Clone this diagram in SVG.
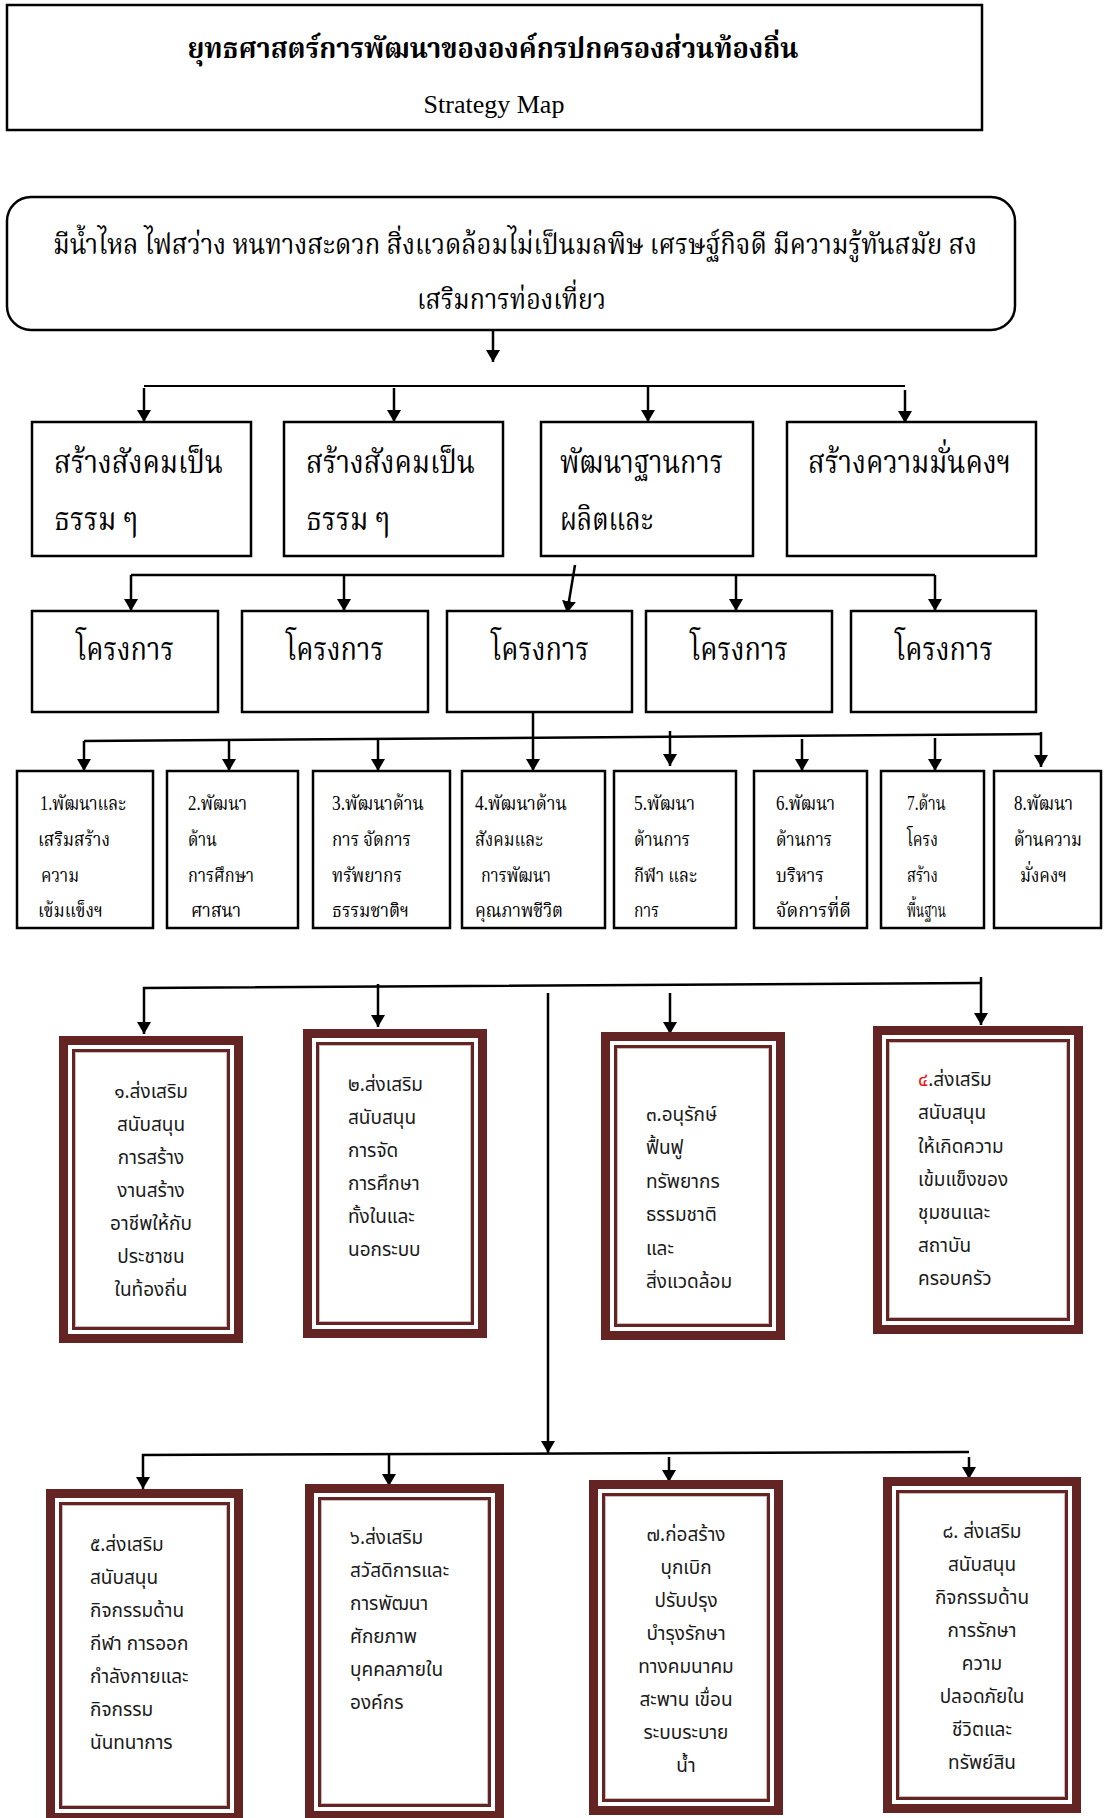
<svg xmlns="http://www.w3.org/2000/svg" width="1106" height="1818" viewBox="0 0 1106 1818">
<defs>
<style>
.bx{fill:#fff;stroke:#000;stroke-width:2.5}
.c{fill:none;stroke:#000;stroke-width:2.5}
.c2{fill:none;stroke:#000;stroke-width:2}
.a{marker-end:url(#ah)}
.th{font-family:"Liberation Serif","Noto Serif Thai","Noto Sans Thai",serif;fill:#000}
.t1{font-size:28px;font-weight:bold}
.t2{font-size:28px}
.t3{font-size:32px}
.t4{font-size:20px}
.en{font-family:"Liberation Serif",serif;font-size:26px;fill:#000}
.ts{font-family:"Noto Sans Thai","Noto Sans","Liberation Sans",sans-serif;font-size:19px;fill:#1a1a1a}
.mid{text-anchor:middle}
.fo{fill:#fff;stroke:#652424;stroke-width:9}
.fi{fill:none;stroke:#652424;stroke-width:3}
.fl{fill:none;stroke:#cdbcbc;stroke-width:1}
</style>
<marker id="ah" viewBox="0 0 12 14" refX="12" refY="7" markerWidth="12" markerHeight="14" markerUnits="userSpaceOnUse" orient="auto"><path d="M0,0 L12,7 L0,14 z" fill="#000"/></marker>
</defs>
<rect width="1106" height="1818" fill="#fff"/>

<g id="connectors">
<path class="c a" d="M493,330 V362"/>
<path class="c2" d="M144,386 H905"/>
<path class="c a" d="M144,388 V422"/>
<path class="c a" d="M394,388 V422"/>
<path class="c a" d="M648,386 V422"/>
<path class="c a" d="M905,390 V423"/>
<path class="c" d="M131,575 H935"/>
<path class="c a" d="M131,575 V611"/>
<path class="c a" d="M344,575 V611"/>
<path class="c a" d="M736,575 V611"/>
<path class="c a" d="M935,575 V611"/>
<path class="c a" d="M575,565 L567,613"/>
<path class="c a" d="M533,712 V771"/>
<path class="c" d="M84,741 L1041,734"/>
<path class="c a" d="M84,741 V771"/>
<path class="c a" d="M229,740 V771"/>
<path class="c a" d="M378,740 V771"/>
<path class="c a" d="M670,731 V766"/>
<path class="c a" d="M802,739 V771"/>
<path class="c a" d="M935,738 V771"/>
<path class="c a" d="M1041,732 V767"/>
<path class="c a" d="M981,983 L144,988 V1034"/>
<path class="c a" d="M378,984 V1027"/>
<path class="c a" d="M670,993 V1034"/>
<path class="c a" d="M981,977 V1025"/>
<path class="c a" d="M548,993 V1453"/>
<path class="c a" d="M969,1452 L143,1455 V1489"/>
<path class="c a" d="M389,1453 V1486"/>
<path class="c a" d="M669,1457 V1482"/>
<path class="c a" d="M969,1457 V1479"/>
</g>

<g id="title">
<rect class="bx" x="7" y="5" width="975" height="125"/>
<text class="th t1 mid" x="493" y="58" textLength="611" lengthAdjust="spacingAndGlyphs">ยุทธศาสตร์การพัฒนาขององค์กรปกครองส่วนท้องถิ่น</text>
<text class="en mid" x="494" y="113">Strategy Map</text>
</g>

<g id="vision">
<rect class="bx" x="7" y="197" width="1008" height="133" rx="24" ry="24"/>
<text class="th t2" x="53" y="254" textLength="924" lengthAdjust="spacingAndGlyphs">มีน้ำไหล ไฟสว่าง หนทางสะดวก สิ่งแวดล้อมไม่เป็นมลพิษ เศรษฐ์กิจดี มีความรู้ทันสมัย สง</text>
<text class="th t2" x="417" y="309" textLength="189" lengthAdjust="spacingAndGlyphs">เสริมการท่องเที่ยว</text>
</g>

<g id="goal1">
<rect class="bx" x="32" y="422" width="219" height="134"/>
<text class="th t3" x="54" y="473" textLength="169" lengthAdjust="spacingAndGlyphs">สร้างสังคมเป็น</text>
<text class="th t3" x="54" y="530" textLength="84" lengthAdjust="spacingAndGlyphs">ธรรม ๆ</text>
</g>
<g id="goal2">
<rect class="bx" x="284" y="422" width="219" height="134"/>
<text class="th t3" x="306" y="473" textLength="169" lengthAdjust="spacingAndGlyphs">สร้างสังคมเป็น</text>
<text class="th t3" x="306" y="530" textLength="84" lengthAdjust="spacingAndGlyphs">ธรรม ๆ</text>
</g>
<g id="goal3">
<rect class="bx" x="541" y="422" width="212" height="134"/>
<text class="th t3" x="560" y="473" textLength="163" lengthAdjust="spacingAndGlyphs">พัฒนาฐานการ</text>
<text class="th t3" x="560" y="530" textLength="93" lengthAdjust="spacingAndGlyphs">ผลิตและ</text>
</g>
<g id="goal4">
<rect class="bx" x="787" y="422" width="249" height="134"/>
<text class="th t3" x="808" y="473" textLength="203" lengthAdjust="spacingAndGlyphs">สร้างความมั่นคงฯ</text>
</g>

<g id="project1"><rect class="bx" x="32" y="611" width="186" height="101"/><text class="th t3 mid" x="125" y="660" textLength="98" lengthAdjust="spacingAndGlyphs">โครงการ</text></g>
<g id="project2"><rect class="bx" x="242" y="611" width="186" height="101"/><text class="th t3 mid" x="335" y="660" textLength="98" lengthAdjust="spacingAndGlyphs">โครงการ</text></g>
<g id="project3"><rect class="bx" x="447" y="611" width="185" height="101"/><text class="th t3 mid" x="540" y="660" textLength="98" lengthAdjust="spacingAndGlyphs">โครงการ</text></g>
<g id="project4"><rect class="bx" x="646" y="611" width="186" height="101"/><text class="th t3 mid" x="739" y="660" textLength="98" lengthAdjust="spacingAndGlyphs">โครงการ</text></g>
<g id="project5"><rect class="bx" x="851" y="611" width="185" height="101"/><text class="th t3 mid" x="944" y="660" textLength="98" lengthAdjust="spacingAndGlyphs">โครงการ</text></g>

<g id="plan1">
<rect class="bx" x="17" y="771" width="136" height="157"/>
<text class="th t4" x="40" y="810" textLength="86" lengthAdjust="spacingAndGlyphs">1.พัฒนาและ</text>
<text class="th t4" x="38" y="846" textLength="72" lengthAdjust="spacingAndGlyphs">เสริมสร้าง</text>
<text class="th t4" x="41" y="882" textLength="38" lengthAdjust="spacingAndGlyphs">ความ</text>
<text class="th t4" x="38" y="917" textLength="65" lengthAdjust="spacingAndGlyphs">เข้มแข็งฯ</text>
</g>
<g id="plan2">
<rect class="bx" x="167" y="771" width="131" height="157"/>
<text class="th t4" x="188" y="810" textLength="59" lengthAdjust="spacingAndGlyphs">2.พัฒนา</text>
<text class="th t4" x="188" y="846" textLength="29" lengthAdjust="spacingAndGlyphs">ด้าน</text>
<text class="th t4" x="188" y="882" textLength="66" lengthAdjust="spacingAndGlyphs">การศึกษา</text>
<text class="th t4" x="191" y="917" textLength="50" lengthAdjust="spacingAndGlyphs">ศาสนา</text>
</g>
<g id="plan3">
<rect class="bx" x="313" y="771" width="137" height="157"/>
<text class="th t4" x="332" y="810" textLength="92" lengthAdjust="spacingAndGlyphs">3.พัฒนาด้าน</text>
<text class="th t4" x="332" y="846" textLength="79" lengthAdjust="spacingAndGlyphs">การ จัดการ</text>
<text class="th t4" x="332" y="882" textLength="70" lengthAdjust="spacingAndGlyphs">ทรัพยากร</text>
<text class="th t4" x="332" y="917" textLength="77" lengthAdjust="spacingAndGlyphs">ธรรมชาติฯ</text>
</g>
<g id="plan4">
<rect class="bx" x="462" y="771" width="143" height="157"/>
<text class="th t4" x="475" y="810" textLength="92" lengthAdjust="spacingAndGlyphs">4.พัฒนาด้าน</text>
<text class="th t4" x="475" y="846" textLength="68" lengthAdjust="spacingAndGlyphs">สังคมและ</text>
<text class="th t4" x="481" y="882" textLength="70" lengthAdjust="spacingAndGlyphs">การพัฒนา</text>
<text class="th t4" x="475" y="917" textLength="88" lengthAdjust="spacingAndGlyphs">คุณภาพชีวิต</text>
</g>
<g id="plan5">
<rect class="bx" x="614" y="771" width="122" height="157"/>
<text class="th t4" x="634" y="810" textLength="61" lengthAdjust="spacingAndGlyphs">5.พัฒนา</text>
<text class="th t4" x="634" y="846" textLength="56" lengthAdjust="spacingAndGlyphs">ด้านการ</text>
<text class="th t4" x="634" y="882" textLength="63" lengthAdjust="spacingAndGlyphs">กีฬา และ</text>
<text class="th t4" x="634" y="917" textLength="25" lengthAdjust="spacingAndGlyphs">การ</text>
</g>
<g id="plan6">
<rect class="bx" x="754" y="771" width="113" height="157"/>
<text class="th t4" x="776" y="810" textLength="59" lengthAdjust="spacingAndGlyphs">6.พัฒนา</text>
<text class="th t4" x="776" y="846" textLength="56" lengthAdjust="spacingAndGlyphs">ด้านการ</text>
<text class="th t4" x="776" y="882" textLength="48" lengthAdjust="spacingAndGlyphs">บริหาร</text>
<text class="th t4" x="776" y="917" textLength="75" lengthAdjust="spacingAndGlyphs">จัดการที่ดี</text>
</g>
<g id="plan7">
<rect class="bx" x="881" y="771" width="103" height="157"/>
<text class="th t4" x="907" y="810" textLength="39" lengthAdjust="spacingAndGlyphs">7.ด้าน</text>
<text class="th t4" x="907" y="846" textLength="31" lengthAdjust="spacingAndGlyphs">โครง</text>
<text class="th t4" x="907" y="882" textLength="31" lengthAdjust="spacingAndGlyphs">สร้าง</text>
<text class="th t4" x="907" y="917" textLength="39" lengthAdjust="spacingAndGlyphs">พื้นฐาน</text>
</g>
<g id="plan8">
<rect class="bx" x="994" y="771" width="107" height="157"/>
<text class="th t4" x="1014" y="810" textLength="59" lengthAdjust="spacingAndGlyphs">8.พัฒนา</text>
<text class="th t4" x="1014" y="846" textLength="68" lengthAdjust="spacingAndGlyphs">ด้านความ</text>
<text class="th t4" x="1020" y="882" textLength="47" lengthAdjust="spacingAndGlyphs">มั่งคงฯ</text>
</g>

<g id="strategy1">
<rect class="fo" x="63.5" y="1040.5" width="175" height="298"/>
<rect class="fi" x="73.5" y="1050.5" width="155" height="278"/>
<rect class="fl" x="75.5" y="1052.5" width="151" height="274"/>
<text class="ts mid" x="151" y="1098">๑.ส่งเสริม</text>
<text class="ts mid" x="151" y="1131">สนับสนุน</text>
<text class="ts mid" x="151" y="1164">การสร้าง</text>
<text class="ts mid" x="151" y="1197">งานสร้าง</text>
<text class="ts mid" x="151" y="1230">อาชีพให้กับ</text>
<text class="ts mid" x="151" y="1263">ประชาชน</text>
<text class="ts mid" x="151" y="1296">ในท้องถิ่น</text>
</g>
<g id="strategy2">
<rect class="fo" x="307.5" y="1033.5" width="175" height="300"/>
<rect class="fi" x="317.5" y="1043.5" width="155" height="280"/>
<rect class="fl" x="319.5" y="1045.5" width="151" height="276"/>
<text class="ts" x="348" y="1091">๒.ส่งเสริม</text>
<text class="ts" x="348" y="1124">สนับสนุน</text>
<text class="ts" x="348" y="1157">การจัด</text>
<text class="ts" x="348" y="1190">การศึกษา</text>
<text class="ts" x="348" y="1223">ทั้งในและ</text>
<text class="ts" x="348" y="1256">นอกระบบ</text>
</g>
<g id="strategy3">
<rect class="fo" x="605.5" y="1036.5" width="175" height="299"/>
<rect class="fi" x="615.5" y="1046.5" width="155" height="279"/>
<rect class="fl" x="617.5" y="1048.5" width="151" height="275"/>
<text class="ts" x="646" y="1121">๓.อนุรักษ์</text>
<text class="ts" x="646" y="1154">ฟื้นฟู</text>
<text class="ts" x="646" y="1188">ทรัพยากร</text>
<text class="ts" x="646" y="1221">ธรรมชาติ</text>
<text class="ts" x="646" y="1255">และ</text>
<text class="ts" x="646" y="1288">สิ่งแวดล้อม</text>
</g>
<g id="strategy4">
<rect class="fo" x="877.5" y="1030.5" width="201" height="299"/>
<rect class="fi" x="887.5" y="1040.5" width="181" height="279"/>
<rect class="fl" x="889.5" y="1042.5" width="177" height="275"/>
<text class="ts" x="918" y="1086"><tspan fill="#e8141b">๔</tspan>.ส่งเสริม</text>
<text class="ts" x="918" y="1119">สนับสนุน</text>
<text class="ts" x="918" y="1153">ให้เกิดความ</text>
<text class="ts" x="918" y="1186">เข้มแข็งของ</text>
<text class="ts" x="918" y="1219">ชุมชนและ</text>
<text class="ts" x="918" y="1252">สถาบัน</text>
<text class="ts" x="918" y="1285">ครอบครัว</text>
</g>
<g id="strategy5">
<rect class="fo" x="50.5" y="1493.5" width="188" height="324"/>
<rect class="fi" x="60.5" y="1503.5" width="168" height="304"/>
<rect class="fl" x="62.5" y="1505.5" width="164" height="300"/>
<text class="ts" x="90" y="1551">๕.ส่งเสริม</text>
<text class="ts" x="90" y="1584">สนับสนุน</text>
<text class="ts" x="90" y="1617">กิจกรรมด้าน</text>
<text class="ts" x="90" y="1650">กีฬา การออก</text>
<text class="ts" x="90" y="1683">กำลังกายและ</text>
<text class="ts" x="90" y="1716">กิจกรรม</text>
<text class="ts" x="90" y="1749">นันทนาการ</text>
</g>
<g id="strategy6">
<rect class="fo" x="309.5" y="1488.5" width="190" height="327"/>
<rect class="fi" x="319.5" y="1498.5" width="170" height="307"/>
<rect class="fl" x="321.5" y="1500.5" width="166" height="303"/>
<text class="ts" x="350" y="1544">๖.ส่งเสริม</text>
<text class="ts" x="350" y="1577">สวัสดิการและ</text>
<text class="ts" x="350" y="1610">การพัฒนา</text>
<text class="ts" x="350" y="1643">ศักยภาพ</text>
<text class="ts" x="350" y="1676">บุคคลภายใน</text>
<text class="ts" x="350" y="1709">องค์กร</text>
</g>
<g id="strategy7">
<rect class="fo" x="593.5" y="1484.5" width="185" height="326"/>
<rect class="fi" x="603.5" y="1494.5" width="165" height="306"/>
<rect class="fl" x="605.5" y="1496.5" width="161" height="302"/>
<text class="ts mid" x="686" y="1541">๗.ก่อสร้าง</text>
<text class="ts mid" x="686" y="1574">บุกเบิก</text>
<text class="ts mid" x="686" y="1607">ปรับปรุง</text>
<text class="ts mid" x="686" y="1640">บำรุงรักษา</text>
<text class="ts mid" x="686" y="1673">ทางคมนาคม</text>
<text class="ts mid" x="686" y="1706">สะพาน เขื่อน</text>
<text class="ts mid" x="686" y="1739">ระบบระบาย</text>
<text class="ts mid" x="686" y="1772">น้ำ</text>
</g>
<g id="strategy8">
<rect class="fo" x="887.5" y="1481.5" width="189" height="327"/>
<rect class="fi" x="897.5" y="1491.5" width="169" height="307"/>
<rect class="fl" x="899.5" y="1493.5" width="165" height="303"/>
<text class="ts mid" x="982" y="1538">๘. ส่งเสริม</text>
<text class="ts mid" x="982" y="1571">สนับสนุน</text>
<text class="ts mid" x="982" y="1604">กิจกรรมด้าน</text>
<text class="ts mid" x="982" y="1637">การรักษา</text>
<text class="ts mid" x="982" y="1670">ความ</text>
<text class="ts mid" x="982" y="1703">ปลอดภัยใน</text>
<text class="ts mid" x="982" y="1736">ชีวิตและ</text>
<text class="ts mid" x="982" y="1769">ทรัพย์สิน</text>
</g>
</svg>
